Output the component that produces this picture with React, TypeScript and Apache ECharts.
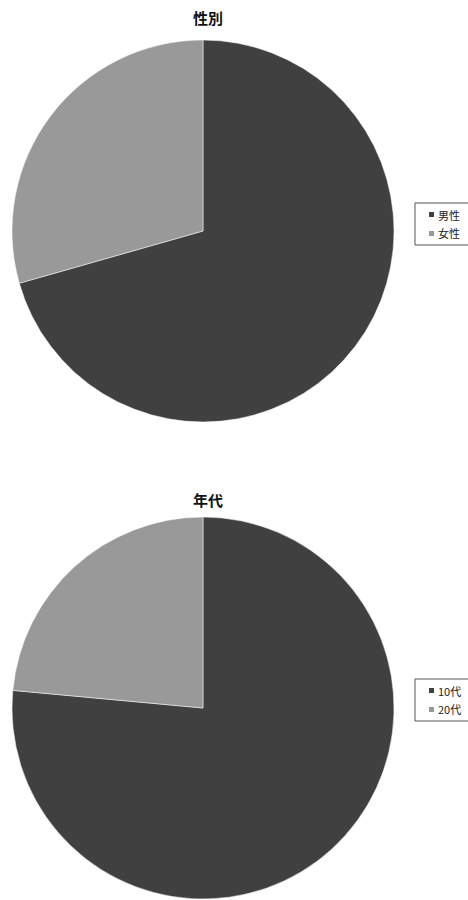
import React, { useEffect, useRef } from "react";
import * as echarts from "echarts";

const genderTitle = "性別";
const genderCategories = ["男性", "女性"];
const genderValues = [12, 5];

const ageTitle = "年代";
const ageCategories = ["10代", "20代"];
const ageValues = [13, 4];

const sliceColors = ["#404040", "#999999"];

const FONT = "'Noto Sans CJK JP', 'Noto Sans', sans-serif";

export default function App() {
  const ref = useRef<HTMLDivElement>(null);

  useEffect(() => {
    if (!ref.current) return;
    const chart = echarts.init(ref.current, null, { renderer: "svg" });

    const pieSeries = (name: string, cats: string[], vals: number[], cy: number) => ({
      type: "pie",
      name,
      center: [203, cy],
      radius: 191,
      startAngle: 90,
      clockwise: true,
      label: { show: false },
      labelLine: { show: false },
      emphasis: { disabled: true },
      itemStyle: { borderColor: "#ffffff", borderWidth: 0.5 },
      data: cats.map((c, i) => ({ name: c, value: vals[i] })),
    });

    const legendBase = {
      orient: "vertical",
      left: 415,
      icon: "rect",
      itemWidth: 7,
      itemHeight: 7,
      itemGap: 8,
      padding: [6, 14, 6, 12],
      borderColor: "#555555",
      borderWidth: 1,
      borderRadius: 0,
      textStyle: { fontSize: 11, color: "#222222", fontFamily: FONT, padding: [0, 0, 0, -2] },
      selectedMode: false,
    };

    chart.setOption({
      animation: false,
      color: sliceColors,
      title: [
        {
          text: genderTitle,
          left: 203,
          top: 5,
          textAlign: "center",
          textStyle: { fontSize: 15, fontWeight: "bold", color: "#111111", fontFamily: FONT },
        },
        {
          text: ageTitle,
          left: 203,
          top: 487,
          textAlign: "center",
          textStyle: { fontSize: 15, fontWeight: "bold", color: "#111111", fontFamily: FONT },
        },
      ],
      legend: [
        { ...legendBase, top: 203, data: genderCategories },
        { ...legendBase, top: 679, data: ageCategories },
      ],
      series: [
        pieSeries(genderTitle, genderCategories, genderValues, 231),
        pieSeries(ageTitle, ageCategories, ageValues, 708),
      ],
    });

    return () => chart.dispose();
  }, []);

  return (
    <div
      ref={ref}
      style={{ position: "absolute", left: 0, top: 0, width: 468, height: 900, background: "#ffffff" }}
    />
  );
}
